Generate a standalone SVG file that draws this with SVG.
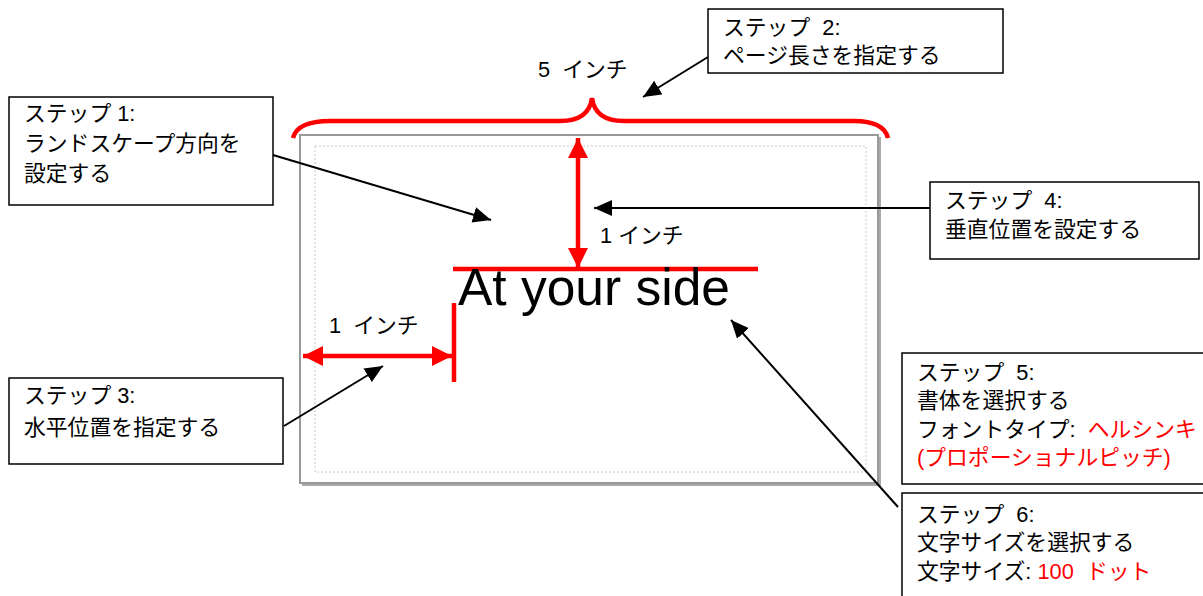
<svg xmlns="http://www.w3.org/2000/svg" width="1203" height="596" viewBox="0 0 1203 596">
<style>
text{font-family:"Liberation Sans","Noto Sans CJK JP",sans-serif;font-size:21.8px;fill:#000;white-space:pre}
.red{fill:#ff0000}
.box{fill:#fff;stroke:#000;stroke-width:1.5}
.rl{stroke:#ff0000;stroke-width:4.5;fill:none}
</style>
<defs>
<marker id="bh" viewBox="0 0 10 10" refX="10" refY="5" markerWidth="18" markerHeight="16" orient="auto" markerUnits="userSpaceOnUse" preserveAspectRatio="none"><path d="M0,0 L10,5 L0,10 z" fill="#000"/></marker>
<marker id="rh" viewBox="0 0 10 10" refX="10" refY="5" markerWidth="20" markerHeight="20" orient="auto-start-reverse" markerUnits="userSpaceOnUse" preserveAspectRatio="none"><path d="M0,0 L10,5 L0,10 z" fill="#ff0000"/></marker>
</defs>
<g id="page">
<rect x="302" y="137" width="579" height="349" fill="#aaa"/>
<rect x="300" y="135" width="578" height="348" fill="#fff" stroke="#999" stroke-width="2"/>
<rect x="315" y="146" width="551" height="326" fill="none" stroke="#c8c8c8" stroke-width="1" stroke-dasharray="2,2"/>
</g>
<g id="brace">
<path class="rl" d="M293,138 C296,126 310,121 330,121 L560,121 C580,121 590,113 592,98 C594,113 604,121 624,121 L854,121 C874,121 885,126 888,138"/>
<text x="538" y="77">5  インチ</text>
</g>
<g id="measure">
<line class="rl" x1="578" y1="138" x2="578" y2="268" marker-start="url(#rh)" marker-end="url(#rh)"/>
<line class="rl" x1="453" y1="269" x2="758" y2="269"/>
<text x="600" y="243">1 インチ</text>
<line class="rl" x1="454" y1="303" x2="454" y2="382"/>
<line class="rl" x1="303" y1="356" x2="452" y2="356" marker-start="url(#rh)" marker-end="url(#rh)"/>
<text x="329" y="333">1  インチ</text>
<text x="458" y="305" style="font-size:51.5px;white-space:normal">At your side</text>
</g>
<g id="connectors" stroke="#000" stroke-width="2" fill="none">
<line x1="273" y1="155" x2="491" y2="220" marker-end="url(#bh)"/>
<line x1="708" y1="57" x2="643" y2="97" marker-end="url(#bh)"/>
<line x1="930" y1="208" x2="594" y2="208" marker-end="url(#bh)"/>
<line x1="284" y1="426" x2="383" y2="366" marker-end="url(#bh)"/>
<line x1="898" y1="507" x2="731" y2="320" marker-end="url(#bh)"/>
</g>
<g id="step1">
<rect class="box" x="9" y="97" width="264" height="108"/>
<text x="24" y="121">ステップ 1:</text>
<text x="24" y="151">ランドスケープ方向を</text>
<text x="24" y="181">設定する</text>
</g>
<g id="step2">
<rect class="box" x="708" y="9" width="295" height="64"/>
<text x="723" y="35">ステップ  2:</text>
<text x="723" y="63">ページ長さを指定する</text>
</g>
<g id="step3">
<rect class="box" x="9" y="378" width="274" height="86"/>
<text x="24" y="403">ステップ 3:</text>
<text x="24" y="435">水平位置を指定する</text>
</g>
<g id="step4">
<rect class="box" x="930" y="182" width="269" height="77"/>
<text x="945" y="208">ステップ  4:</text>
<text x="945" y="237">垂直位置を設定する</text>
</g>
<g id="step5">
<rect class="box" x="902" y="353" width="305" height="131"/>
<text x="917" y="380">ステップ  5:</text>
<text x="917" y="408">書体を選択する</text>
<text x="917" y="437">フォントタイプ:  <tspan class="red">ヘルシンキ</tspan></text>
<text x="917" y="465" class="red">(プロポーショナルピッチ)</text>
</g>
<g id="step6">
<rect class="box" x="902" y="493" width="305" height="110"/>
<text x="917" y="522">ステップ  6:</text>
<text x="917" y="550">文字サイズを選択する</text>
<text x="917" y="579">文字サイズ: <tspan class="red">100  ドット</tspan></text>
</g>
</svg>
